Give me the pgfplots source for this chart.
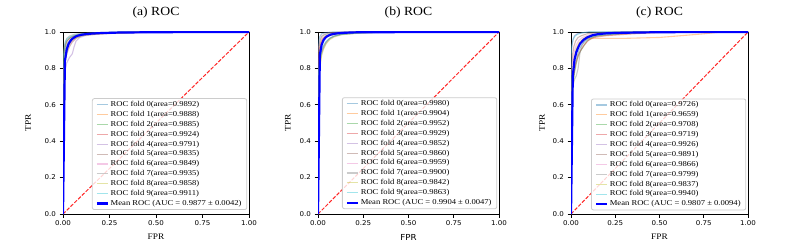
\documentclass[border=0pt]{standalone}
\usepackage{fontspec}
\setmainfont{Liberation Serif}
\newfontfamily\legfont[FakeStretch=1.15]{Liberation Serif}
\newfontfamily\tickfont[FakeStretch=1.08]{DejaVu Sans}
\newfontfamily\labfont[FakeStretch=1.1]{Liberation Serif}
\newfontfamily\labsans[FakeStretch=1.05]{DejaVu Sans}
\usepackage{pgfplots}
\pgfplotsset{compat=1.18}
\definecolor{c0}{HTML}{1F77B4}
\definecolor{c1}{HTML}{FF7F0E}
\definecolor{c2}{HTML}{2CA02C}
\definecolor{c3}{HTML}{D62728}
\definecolor{c4}{HTML}{9467BD}
\definecolor{c5}{HTML}{8C564B}
\definecolor{c6}{HTML}{E377C2}
\definecolor{c7}{HTML}{7F7F7F}
\definecolor{c8}{HTML}{BCBD22}
\definecolor{c9}{HTML}{17BECF}
\pgfplotsset{
  fold/.style={line width=1.1bp, draw opacity=0.4},
  meanroc/.style={blue, line width=2.2bp},
  chance/.style={red, line width=1bp, dash pattern=on 3.7bp off 1.6bp, draw opacity=0.85, forget plot},
  rocax/.style={
    scale only axis, height=182bp,
    xmin=0, xmax=1, ymin=0, ymax=1,
    xtick={0,0.25,0.5,0.75,1}, xticklabels={0.00,0.25,0.50,0.75,1.00},
    ytick={0,0.2,0.4,0.6,0.8,1}, yticklabels={0.0,0.2,0.4,0.6,0.8,1.0},
    tick align=outside, tick pos=left, major tick length=3.5bp,
    axis line style={black, line width=0.9bp},
    every tick/.style={black, line width=0.8bp},
    ticklabel style={font=\tickfont\fontsize{6.6}{7}\selectfont},
    title style={font=\labfont\fontsize{12.5}{14}\selectfont, at={(axis description cs:0.5,1)}, anchor=base, yshift=10.5bp},
    xlabel style={font=\labfont\fontsize{8.5}{10}\selectfont, at={(axis description cs:0.5,0)}, anchor=center, yshift=-23bp},
    ylabel style={font=\labfont\fontsize{8.5}{10}\selectfont, anchor=center},
    legend cell align=left,
    legend image code/.code={\draw[##1] (0bp,0bp) -- (11bp,0bp);},
    legend style={
      anchor=south east, draw=black!20, line width=0.8bp, rounded corners=2bp,
      fill=white, fill opacity=0.8, draw opacity=1, text opacity=1,
      font=\legfont\fontsize{7.5}{8.5}\selectfont,
      inner xsep=3.5bp, inner ysep=2.5bp, row sep=2.9bp,
      nodes={inner ysep=0bp, inner xsep=1.7bp, text height=5.4bp, text depth=1.6bp},
    },
  }
}
\begin{document}
\begin{tikzpicture}[x=1bp,y=1bp]
\path (0,0) rectangle (802,251);
% ---------------- (a)
\begin{axis}[rocax, at={(63bp,37bp)}, anchor=south west, width=186bp,
  title={(a) ROC}, xlabel={FPR}, ylabel={TPR},
  ylabel style={at={(axis description cs:-0.188,0.5)}},
  legend style={at={(axis description cs:0.99,0.022)}}]
\addplot[c0, fold] coordinates {(0,0)(0,0.80)(0.008,0.86)(0.015,0.91)(0.025,0.94)(0.04,0.96)(0.06,0.975)(0.09,0.985)(0.14,0.99)(0.25,0.995)(0.4,1)(1,1)};
\addlegendentry{ROC fold 0(area=0.9892)}
\addplot[c1, fold] coordinates {(0,0)(0,0.76)(0.01,0.84)(0.02,0.90)(0.03,0.93)(0.045,0.955)(0.07,0.975)(0.1,0.985)(0.18,0.99)(0.3,0.997)(0.5,1)(1,1)};
\addlegendentry{ROC fold 1(area=0.9888)}
\addplot[c2, fold] coordinates {(0,0)(0,0.82)(0.006,0.88)(0.012,0.92)(0.02,0.95)(0.035,0.965)(0.05,0.975)(0.08,0.985)(0.15,0.99)(0.3,0.995)(0.45,1)(1,1)};
\addlegendentry{ROC fold 2(area=0.9885)}
\addplot[c3, fold] coordinates {(0,0)(0,0.85)(0.007,0.9)(0.015,0.935)(0.025,0.955)(0.04,0.97)(0.065,0.98)(0.1,0.99)(0.2,0.995)(0.35,1)(1,1)};
\addlegendentry{ROC fold 3(area=0.9924)}
\addplot[c4, fold] coordinates {(0,0)(0,0.7)(0.01,0.78)(0.02,0.83)(0.035,0.86)(0.05,0.88)(0.06,0.92)(0.07,0.95)(0.09,0.97)(0.12,0.98)(0.2,0.99)(0.35,0.995)(0.55,1)(1,1)};
\addlegendentry{ROC fold 4(area=0.9791)}
\addplot[c5, fold] coordinates {(0,0)(0,0.74)(0.01,0.83)(0.02,0.88)(0.035,0.92)(0.05,0.945)(0.07,0.965)(0.1,0.98)(0.16,0.99)(0.3,0.995)(0.5,1)(1,1)};
\addlegendentry{ROC fold 5(area=0.9835)}
\addplot[c6, fold] coordinates {(0,0)(0,0.77)(0.012,0.85)(0.022,0.9)(0.035,0.93)(0.055,0.955)(0.08,0.975)(0.12,0.985)(0.2,0.99)(0.35,0.996)(0.55,1)(1,1)};
\addlegendentry{ROC fold 6(area=0.9849)}
\addplot[c7, fold] coordinates {(0,0)(0,0.86)(0.005,0.91)(0.012,0.945)(0.02,0.965)(0.035,0.978)(0.06,0.987)(0.1,0.993)(0.2,0.997)(0.3,1)(1,1)};
\addlegendentry{ROC fold 7(area=0.9935)}
\addplot[c8, fold] coordinates {(0,0)(0,0.79)(0.01,0.86)(0.02,0.905)(0.03,0.93)(0.05,0.955)(0.075,0.97)(0.11,0.982)(0.2,0.99)(0.35,0.996)(0.5,1)(1,1)};
\addlegendentry{ROC fold 8(area=0.9858)}
\addplot[c9, fold] coordinates {(0,0)(0,0.84)(0.006,0.9)(0.012,0.94)(0.02,0.96)(0.035,0.972)(0.06,0.982)(0.1,0.99)(0.18,0.995)(0.3,1)(1,1)};
\addlegendentry{ROC fold 9(area=0.9911)}
\addplot[chance] coordinates {(0,0)(1,1)};
\addplot[meanroc] coordinates {(0,0)(0.0101,0.84)(0.0202,0.905)(0.0303,0.935)(0.0404,0.952)(0.0505,0.963)(0.0606,0.970)(0.0707,0.976)(0.0808,0.98)(0.101,0.985)(0.1212,0.988)(0.1515,0.991)(0.202,0.994)(0.303,0.997)(0.505,0.999)(1,1)};
\addlegendentry{Mean ROC (AUC = 0.9877 ± 0.0042)}
\end{axis}
% ---------------- (b)
\begin{axis}[rocax, at={(318bp,37bp)}, anchor=south west, width=181bp,
  title={(b) ROC}, xlabel={FPR}, ylabel={TPR},
  ylabel style={at={(axis description cs:-0.166,0.5)}},
  xlabel style={font=\labsans\fontsize{8.3}{10}\selectfont},
  legend style={at={(axis description cs:0.99,0.027)}}]
\addplot[c0, fold] coordinates {(0,0)(0,0.9)(0.004,0.95)(0.01,0.975)(0.02,0.99)(0.04,0.996)(0.08,1)(1,1)};
\addlegendentry{ROC fold 0(area=0.9980)}
\addplot[c1, fold] coordinates {(0,0)(0,0.8)(0.008,0.88)(0.015,0.93)(0.025,0.955)(0.04,0.97)(0.06,0.98)(0.1,0.99)(0.18,0.996)(0.3,1)(1,1)};
\addlegendentry{ROC fold 1(area=0.9904)}
\addplot[c2, fold] coordinates {(0,0)(0,0.86)(0.006,0.92)(0.012,0.955)(0.02,0.975)(0.035,0.985)(0.06,0.993)(0.12,0.998)(0.2,1)(1,1)};
\addlegendentry{ROC fold 2(area=0.9952)}
\addplot[c3, fold] coordinates {(0,0)(0,0.83)(0.007,0.9)(0.014,0.94)(0.024,0.965)(0.04,0.978)(0.07,0.988)(0.12,0.995)(0.25,1)(1,1)};
\addlegendentry{ROC fold 3(area=0.9929)}
\addplot[c4, fold] coordinates {(0,0)(0,0.72)(0.01,0.82)(0.02,0.88)(0.03,0.91)(0.045,0.94)(0.06,0.96)(0.085,0.975)(0.12,0.985)(0.2,0.993)(0.35,1)(1,1)};
\addlegendentry{ROC fold 4(area=0.9852)}
\addplot[c5, fold] coordinates {(0,0)(0,0.74)(0.01,0.84)(0.02,0.89)(0.03,0.92)(0.045,0.945)(0.065,0.965)(0.09,0.978)(0.13,0.988)(0.22,0.995)(0.38,1)(1,1)};
\addlegendentry{ROC fold 5(area=0.9860)}
\addplot[c6, fold] coordinates {(0,0)(0,0.88)(0.005,0.93)(0.012,0.96)(0.02,0.978)(0.035,0.988)(0.06,0.995)(0.12,1)(1,1)};
\addlegendentry{ROC fold 6(area=0.9959)}
\addplot[c7, fold] coordinates {(0,0)(0,0.8)(0.008,0.88)(0.016,0.925)(0.026,0.952)(0.04,0.968)(0.06,0.98)(0.1,0.99)(0.18,0.996)(0.3,1)(1,1)};
\addlegendentry{ROC fold 7(area=0.9900)}
\addplot[c8, fold] coordinates {(0,0)(0,0.7)(0.01,0.8)(0.02,0.87)(0.03,0.905)(0.045,0.935)(0.065,0.958)(0.09,0.973)(0.13,0.985)(0.22,0.993)(0.4,1)(1,1)};
\addlegendentry{ROC fold 8(area=0.9842)}
\addplot[c9, fold] coordinates {(0,0)(0,0.75)(0.01,0.84)(0.02,0.895)(0.03,0.925)(0.045,0.948)(0.065,0.966)(0.09,0.978)(0.13,0.987)(0.22,0.994)(0.38,1)(1,1)};
\addlegendentry{ROC fold 9(area=0.9863)}
\addplot[chance] coordinates {(0,0)(1,1)};
\addplot[meanroc] coordinates {(0,0)(0.0101,0.875)(0.0202,0.93)(0.0303,0.955)(0.0404,0.968)(0.0505,0.977)(0.0707,0.986)(0.101,0.992)(0.1515,0.996)(0.202,0.998)(0.303,0.999)(1,1)};
\addlegendentry{Mean ROC (AUC = 0.9904 ± 0.0047)}
\end{axis}
% ---------------- (c)
\begin{axis}[rocax, at={(571bp,37bp)}, anchor=south west, width=177bp,
  title={(c) ROC}, xlabel={FPR}, ylabel={TPR},
  ylabel style={at={(axis description cs:-0.164,0.5)}},
  legend style={at={(axis description cs:0.99,0.02)}}]
\addplot[c0, fold] coordinates {(0,0)(0,0.6)(0.01,0.72)(0.02,0.8)(0.03,0.85)(0.045,0.9)(0.06,0.93)(0.08,0.95)(0.11,0.97)(0.15,0.98)(0.25,0.99)(0.45,1)(1,1)};
\addlegendentry{ROC fold 0(area=0.9726)}
\addplot[c1, fold] coordinates {(0,0)(0,0.65)(0.01,0.76)(0.02,0.85)(0.035,0.91)(0.05,0.94)(0.07,0.96)(0.1,0.965)(0.3,0.965)(0.5,0.97)(0.75,0.99)(0.85,1)(1,1)};
\addlegendentry{ROC fold 1(area=0.9659)}
\addplot[c2, fold] coordinates {(0,0)(0,0.55)(0.01,0.7)(0.02,0.78)(0.035,0.85)(0.05,0.89)(0.07,0.92)(0.09,0.95)(0.12,0.97)(0.16,0.98)(0.3,0.99)(0.5,1)(1,1)};
\addlegendentry{ROC fold 2(area=0.9708)}
\addplot[c3, fold] coordinates {(0,0)(0,0.6)(0.012,0.74)(0.025,0.82)(0.04,0.87)(0.055,0.9)(0.075,0.93)(0.1,0.955)(0.13,0.97)(0.2,0.98)(0.35,0.99)(0.55,1)(1,1)};
\addlegendentry{ROC fold 3(area=0.9719)}
\addplot[c4, fold] coordinates {(0,0)(0,0.85)(0.005,0.92)(0.012,0.96)(0.02,0.98)(0.035,0.99)(0.06,0.995)(0.1,1)(1,1)};
\addlegendentry{ROC fold 4(area=0.9926)}
\addplot[c5, fold] coordinates {(0,0)(0,0.78)(0.008,0.87)(0.016,0.92)(0.026,0.95)(0.04,0.97)(0.06,0.98)(0.09,0.99)(0.15,0.996)(0.25,1)(1,1)};
\addlegendentry{ROC fold 5(area=0.9891)}
\addplot[c6, fold] coordinates {(0,0)(0,0.75)(0.01,0.85)(0.02,0.9)(0.03,0.93)(0.045,0.955)(0.065,0.97)(0.09,0.98)(0.13,0.99)(0.22,0.996)(0.35,1)(1,1)};
\addlegendentry{ROC fold 6(area=0.9866)}
\addplot[c7, fold] coordinates {(0,0)(0,0.62)(0.01,0.7)(0.02,0.74)(0.03,0.76)(0.04,0.8)(0.05,0.88)(0.06,0.92)(0.075,0.95)(0.1,0.97)(0.15,0.985)(0.25,0.995)(0.4,1)(1,1)};
\addlegendentry{ROC fold 7(area=0.9799)}
\addplot[c8, fold] coordinates {(0,0)(0,0.7)(0.01,0.8)(0.02,0.87)(0.03,0.91)(0.045,0.94)(0.065,0.96)(0.09,0.975)(0.13,0.985)(0.2,0.993)(0.35,1)(1,1)};
\addlegendentry{ROC fold 8(area=0.9837)}
\addplot[c9, fold] coordinates {(0,0)(0,0.87)(0.005,0.93)(0.012,0.96)(0.02,0.975)(0.035,0.987)(0.06,0.995)(0.1,1)(1,1)};
\addlegendentry{ROC fold 9(area=0.9940)}
\addplot[chance] coordinates {(0,0)(1,1)};
\addplot[meanroc] coordinates {(0,0)(0.0101,0.76)(0.0202,0.85)(0.0303,0.89)(0.0404,0.915)(0.0505,0.935)(0.0707,0.957)(0.0909,0.97)(0.1212,0.982)(0.1515,0.988)(0.202,0.993)(0.303,0.996)(0.505,0.999)(1,1)};
\addlegendentry{Mean ROC (AUC = 0.9807 ± 0.0094)}
\end{axis}
\end{tikzpicture}
\end{document}
